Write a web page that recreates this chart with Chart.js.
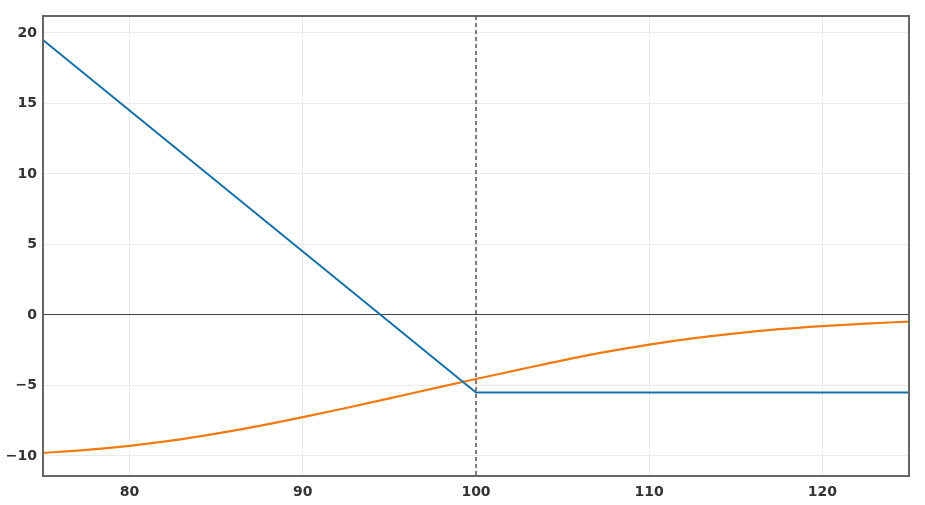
<!DOCTYPE html>
<html>
<head>
<meta charset="utf-8">
<script src="https://cdn.jsdelivr.net/npm/chart.js@4.4.1/dist/chart.umd.min.js"></script>
<style>
html,body{margin:0;padding:0;background:#fff;}
canvas{display:block;}
</style>
</head>
<body>
<canvas id="c" width="925" height="505"></canvas>
<script>
const spotPrices = [75, 77.5, 80, 82.5, 85, 87.5, 90, 92.5, 95, 97.5, 100, 102.5, 105, 107.5, 110, 112.5, 115, 117.5, 120, 122.5, 125];
const payoffValues = [19.5, 17, 14.5, 12, 9.5, 7, 4.5, 2, -0.5, -3, -5.5, -5.5, -5.5, -5.5, -5.5, -5.5, -5.5, -5.5, -5.5, -5.5, -5.5];
const curveValues = [-9.79, -9.57, -9.28, -8.9, -8.42, -7.87, -7.25, -6.6, -5.92, -5.22, -4.54, -3.88, -3.22, -2.62, -2.1, -1.66, -1.3, -1.01, -0.79, -0.61, -0.47];
const strikePrice = 100;
const xTicks = [80, 90, 100, 110, 120];
const yTicks = [-10, -5, 0, 5, 10, 15, 20];
const xRange = [75, 125];
const yRange = [-11.42, 21.2];

const toPoints = (xs, ys) => xs.map((x, i) => ({x: x, y: ys[i]}));

const framePlugin = {
  id: 'frame',
  beforeDatasetsDraw(chart) {
    const {ctx, chartArea: a, scales} = chart;
    const px = scales.x.getPixelForValue(strikePrice);
    ctx.save();
    ctx.strokeStyle = '#555';
    ctx.lineWidth = 1.5;
    ctx.setLineDash([4, 3]);
    ctx.beginPath();
    ctx.moveTo(Math.round(px), a.top);
    ctx.lineTo(Math.round(px), a.bottom);
    ctx.stroke();
    ctx.restore();
  },
  afterDraw(chart) {
    const {ctx, chartArea: a} = chart;
    ctx.save();
    ctx.strokeStyle = '#666';
    ctx.lineWidth = 2;
    ctx.strokeRect(a.left, a.top, a.right - a.left, a.bottom - a.top);
    ctx.restore();
  }
};

const fmt = v => String(v).replace('-', '\u2212');

new Chart(document.getElementById('c'), {
  type: 'line',
  data: {
    datasets: [
      {
        data: toPoints(spotPrices, payoffValues),
        borderColor: '#1670a8',
        borderWidth: 2,
        pointRadius: 0,
        tension: 0,
        fill: false
      },
      {
        data: toPoints(spotPrices, curveValues),
        borderColor: '#f27a10',
        borderWidth: 2.2,
        pointRadius: 0,
        cubicInterpolationMode: 'monotone',
        fill: false
      }
    ]
  },
  options: {
    responsive: false,
    animation: false,
    layout: {padding: {left: 0, right: 16, top: 16, bottom: 0}},
    plugins: {legend: {display: false}, tooltip: {enabled: false}},
    scales: {
      x: {
        type: 'linear',
        min: xRange[0],
        max: xRange[1],
        afterBuildTicks: s => { s.ticks = xTicks.map(v => ({value: v})); },
        afterFit: s => { s.height = 29; },
        border: {display: false},
        grid: {color: '#ebebeb', lineWidth: 1, drawTicks: false},
        ticks: {
          padding: 8,
          color: '#333',
          font: {family: 'DejaVu Sans', size: 14, weight: 'bold'},
          callback: v => fmt(v),
          maxRotation: 0
        }
      },
      y: {
        type: 'linear',
        min: yRange[0],
        max: yRange[1],
        afterBuildTicks: s => { s.ticks = yTicks.map(v => ({value: v})); },
        afterFit: s => { s.width = 43; },
        border: {display: false},
        grid: {
          color: ctx => (ctx.tick && ctx.tick.value === 0) ? '#444' : '#ebebeb',
          lineWidth: 1,
          drawTicks: false
        },
        ticks: {
          padding: 6,
          color: '#333',
          font: {family: 'DejaVu Sans', size: 14, weight: 'bold'},
          callback: v => fmt(v)
        }
      }
    }
  },
  plugins: [framePlugin]
});
</script>
</body>
</html>
